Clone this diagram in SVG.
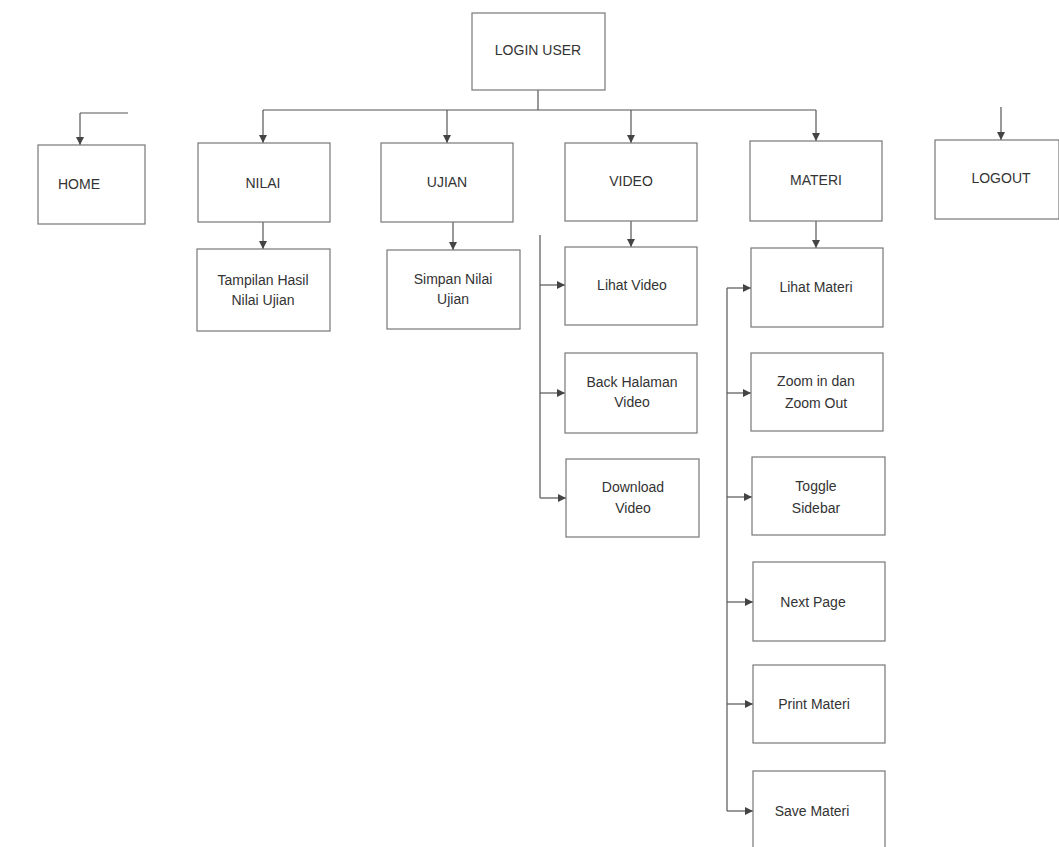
<svg xmlns="http://www.w3.org/2000/svg" width="1059" height="847" viewBox="0 0 1059 847">
<defs>
<style>
.box{fill:none;stroke:#777;stroke-width:1.2}
.ln{fill:none;stroke:#555;stroke-width:1.2}
.t{font-family:"Liberation Sans",Arial,sans-serif;font-size:14px;fill:#333;text-anchor:middle}
</style>
<marker id="ah" viewBox="0 0 10 10" refX="10" refY="5" markerWidth="8" markerHeight="8" markerUnits="userSpaceOnUse" orient="auto">
<path d="M0,0 L10,5 L0,10 z" fill="#444"/>
</marker>
</defs>
<rect width="1059" height="847" fill="#fff"/>
<g id="connectors">
<path class="ln" d="M538,90 V110"/>
<path class="ln" d="M263,110 H816"/>
<path class="ln" d="M80,113 H128"/>
<path class="ln" d="M80,113 V145" marker-end="url(#ah)"/>
<path class="ln" d="M263,110 V143" marker-end="url(#ah)"/>
<path class="ln" d="M447,110 V143" marker-end="url(#ah)"/>
<path class="ln" d="M631,110 V143" marker-end="url(#ah)"/>
<path class="ln" d="M816,110 V141" marker-end="url(#ah)"/>
<path class="ln" d="M1001,107 V140" marker-end="url(#ah)"/>
<path class="ln" d="M263,222 V249" marker-end="url(#ah)"/>
<path class="ln" d="M453,222 V250" marker-end="url(#ah)"/>
<path class="ln" d="M631,221 V247" marker-end="url(#ah)"/>
<path class="ln" d="M540,235 V498"/>
<path class="ln" d="M540,285 H565" marker-end="url(#ah)"/>
<path class="ln" d="M540,393 H565" marker-end="url(#ah)"/>
<path class="ln" d="M540,498 H566" marker-end="url(#ah)"/>
<path class="ln" d="M816,221 V248" marker-end="url(#ah)"/>
<path class="ln" d="M727,288 H751" marker-end="url(#ah)"/>
<path class="ln" d="M727,288 V811"/>
<path class="ln" d="M727,393 H751" marker-end="url(#ah)"/>
<path class="ln" d="M727,497 H752" marker-end="url(#ah)"/>
<path class="ln" d="M727,602 H753" marker-end="url(#ah)"/>
<path class="ln" d="M727,704 H753" marker-end="url(#ah)"/>
<path class="ln" d="M727,811 H753" marker-end="url(#ah)"/>
</g>
<g id="login"><rect class="box" x="472" y="13" width="133" height="77"/><text class="t" x="538" y="55">LOGIN USER</text></g>
<g id="home"><rect class="box" x="38" y="145" width="107" height="79"/><text class="t" x="79" y="189">HOME</text></g>
<g id="nilai"><rect class="box" x="198" y="143" width="132" height="79"/><text class="t" x="263" y="188">NILAI</text></g>
<g id="ujian"><rect class="box" x="381" y="143" width="132" height="79"/><text class="t" x="447" y="187">UJIAN</text></g>
<g id="video"><rect class="box" x="565" y="143" width="132" height="78"/><text class="t" x="631" y="186">VIDEO</text></g>
<g id="materi"><rect class="box" x="750" y="141" width="132" height="80"/><text class="t" x="816" y="185">MATERI</text></g>
<g id="logout"><rect class="box" x="935" y="140" width="124" height="79"/><text class="t" x="1001" y="183">LOGOUT</text></g>
<g id="tampilan"><rect class="box" x="197" y="249" width="133" height="82"/><text class="t" x="263" y="285">Tampilan Hasil</text><text class="t" x="263" y="305">Nilai Ujian</text></g>
<g id="simpan"><rect class="box" x="387" y="250" width="133" height="79"/><text class="t" x="453" y="284">Simpan Nilai</text><text class="t" x="453" y="304">Ujian</text></g>
<g id="lihatvideo"><rect class="box" x="565" y="247" width="132" height="78"/><text class="t" x="632" y="290">Lihat Video</text></g>
<g id="backhalaman"><rect class="box" x="565" y="353" width="132" height="80"/><text class="t" x="632" y="387">Back Halaman</text><text class="t" x="632" y="407">Video</text></g>
<g id="download"><rect class="box" x="566" y="459" width="133" height="78"/><text class="t" x="633" y="492">Download</text><text class="t" x="633" y="513">Video</text></g>
<g id="lihatmateri"><rect class="box" x="751" y="248" width="132" height="79"/><text class="t" x="816" y="292">Lihat Materi</text></g>
<g id="zoom"><rect class="box" x="751" y="353" width="132" height="78"/><text class="t" x="816" y="386">Zoom in dan</text><text class="t" x="816" y="408">Zoom Out</text></g>
<g id="toggle"><rect class="box" x="752" y="457" width="133" height="78"/><text class="t" x="816" y="491">Toggle</text><text class="t" x="816" y="513">Sidebar</text></g>
<g id="nextpage"><rect class="box" x="753" y="562" width="132" height="79"/><text class="t" x="813" y="607">Next Page</text></g>
<g id="print"><rect class="box" x="753" y="665" width="132" height="78"/><text class="t" x="814" y="709">Print Materi</text></g>
<g id="save"><rect class="box" x="753" y="771" width="132" height="80"/><text class="t" x="812" y="816">Save Materi</text></g>
</svg>
